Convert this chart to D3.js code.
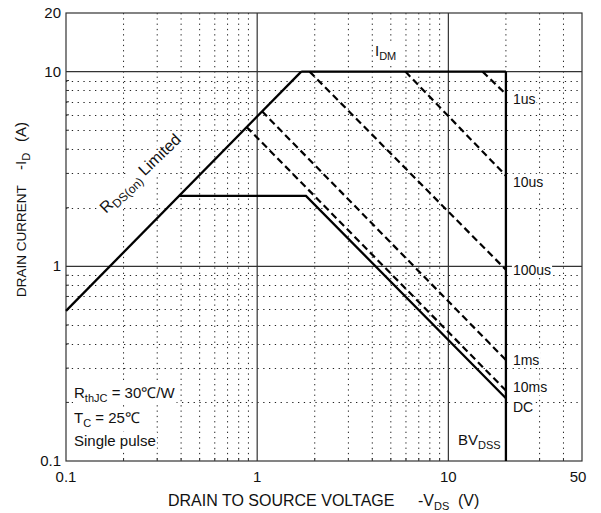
<!DOCTYPE html>
<html lang="en">
<head>
  <meta charset="UTF-8">
  <title>Safe Operating Area</title>
  <script src="https://d3js.org/d3.v7.min.js"></script>
  <style>
    body { margin: 0; background: #fff; }
    svg { display: block; font-family: "Liberation Sans", Arial, sans-serif; }
    .tick-label { font-size: 15px; fill: #111; }
    .lbl { font-size: 15px; fill: #111; }
    .side { font-size: 14px; fill: #111; }
  </style>
</head>
<body>
  <svg width="601" height="513"></svg>

  <script>
    // axis ticks
    const xTicks = [0.1, 1, 10, 50];
    const yTicks = [0.1, 1, 10, 20];
    const xMajor = [1, 10];
    const yMajor = [1, 10];
    const xMinor = [0.2, 0.3, 0.4, 0.5, 0.6, 0.7, 0.8, 0.9, 2, 3, 4, 5, 6, 7, 8, 9, 20, 30, 40];
    const yMinor = [0.2, 0.3, 0.4, 0.5, 0.6, 0.7, 0.8, 0.9, 2, 3, 4, 5, 6, 7, 8, 9];

    // boundary lines [V, I]
    const rdsLimit = [[0.1, 0.59], [1.7, 10]];
    const idmLine = [[1.7, 10], [20, 10]];
    const bvdssLine = [[20, 10], [20, 0.1]];
    const dcLine = [[0.39, 2.3], [1.8, 2.3], [20, 0.21]];

    // pulse lines (dashed)
    const pulseNames = ["1us", "10us", "100us", "1ms", "10ms"];
    const pulseStart = [[15.1, 10], [5.96, 10], [1.88, 10], [1.06, 6.25], [0.88, 5.2]];
    const pulseEnd = [[20, 7.66], [20, 2.92], [20, 0.96], [20, 0.33], [20, 0.23]];

    // curve labels at V = 20
    const curveLabels = ["1us", "10us", "100us", "1ms", "10ms", "DC"];
    const curveLabelAt = [6.83, 2.56, 0.906, 0.313, 0.225, 0.178];

    const svg = d3.select("svg");

    const x = d3.scaleLog().domain([0.1, 50]).range([66, 582]);
    const y = d3.scaleLog().domain([0.1, 20]).range([461, 13]);

    const grid = svg.append("g");

    // minor dotted grid
    grid.selectAll(".vminor")
      .data(xMinor)
      .join("line")
      .attr("x1", d => x(d)).attr("x2", d => x(d))
      .attr("y1", y(20)).attr("y2", y(0.1))
      .attr("stroke", "#222")
      .attr("stroke-width", 1)
      .attr("stroke-dasharray", "1.3,4");

    grid.selectAll(".hminor")
      .data(yMinor)
      .join("line")
      .attr("y1", d => Math.round(y(d)) + 0.5).attr("y2", d => Math.round(y(d)) + 0.5)
      .attr("x1", x(0.1)).attr("x2", x(50))
      .attr("stroke", "#222")
      .attr("stroke-width", 1)
      .attr("stroke-dasharray", "1.3,4.5");

    // major grid
    grid.selectAll(".vmajor")
      .data(xMajor)
      .join("line")
      .attr("x1", d => x(d)).attr("x2", d => x(d))
      .attr("y1", y(20)).attr("y2", y(0.1))
      .attr("stroke", "#333")
      .attr("stroke-width", 1.2);

    grid.selectAll(".hmajor")
      .data(yMajor)
      .join("line")
      .attr("y1", d => y(d)).attr("y2", d => y(d))
      .attr("x1", x(0.1)).attr("x2", x(50))
      .attr("stroke", "#333")
      .attr("stroke-width", 1.2);

    // small inward ticks
    grid.selectAll(".ytick")
      .data(yMinor)
      .join("line")
      .attr("x1", x(0.1)).attr("x2", x(0.1) + 3)
      .attr("y1", d => y(d)).attr("y2", d => y(d))
      .attr("stroke", "#333");

    grid.selectAll(".xtick")
      .data(xMinor)
      .join("line")
      .attr("x1", d => x(d)).attr("x2", d => x(d))
      .attr("y1", y(0.1)).attr("y2", y(0.1) - 3)
      .attr("stroke", "#333");

    // frame
    svg.append("rect")
      .attr("x", x(0.1)).attr("y", y(20))
      .attr("width", x(50) - x(0.1)).attr("height", y(0.1) - y(20))
      .attr("fill", "none")
      .attr("stroke", "#333")
      .attr("stroke-width", 1.2);

    // white-backed text helper
    function boxed(parent, build) {
      const g = parent.append("g");
      const t = build(g);
      const b = t.node().getBBox();
      g.insert("rect", "text")
        .attr("x", b.x - 1).attr("y", b.y)
        .attr("width", b.width + 2).attr("height", b.height)
        .attr("fill", "#fff");
      return g;
    }

    const line = d3.line().x(d => x(d[0])).y(d => y(d[1]));
    const curves = svg.append("g");

    // dashed pulse lines
    curves.selectAll(".pulse")
      .data(pulseNames)
      .join("path")
      .attr("d", (d, i) => line([pulseStart[i], pulseEnd[i]]))
      .attr("fill", "none")
      .attr("stroke", "#000")
      .attr("stroke-width", 2.2)
      .attr("stroke-dasharray", "7,4");

    // solid boundaries
    [rdsLimit, idmLine, bvdssLine, dcLine].forEach(pts => {
      curves.append("path")
        .attr("d", line(pts))
        .attr("fill", "none")
        .attr("stroke", "#000")
        .attr("stroke-width", 2.3)
        .attr("stroke-linejoin", "miter");
    });

    // curve labels
    curveLabels.forEach((name, i) => {
      boxed(svg, g => g.append("text")
        .attr("class", "side")
        .attr("x", x(20) + 7)
        .attr("y", y(curveLabelAt[i]))
        .text(name));
    });

    // I_DM label
    boxed(svg, g => {
      const t = g.append("text").attr("class", "side").attr("x", 375).attr("y", 56);
      t.append("tspan").attr("font-size", 15).text("I");
      t.append("tspan").attr("font-size", 11).attr("dy", 4).text("DM");
      return t;
    });

    // BV_DSS label
    boxed(svg, g => {
      const t = g.append("text").attr("class", "side").attr("x", 458).attr("y", 445);
      t.append("tspan").attr("font-size", 15).text("BV");
      t.append("tspan").attr("font-size", 11).attr("dy", 4).text("DSS");
      return t;
    });

    // R_DS(on) Limited label
    const rl = svg.append("g").attr("transform", "translate(106,214) rotate(-44)");
    boxed(rl, g => {
      const t = g.append("text").attr("x", 0).attr("y", 0).attr("font-size", 16).attr("fill", "#111");
      t.append("tspan").text("R");
      t.append("tspan").attr("font-size", 12).attr("dy", 4).text("DS(on)");
      t.append("tspan").attr("dy", -4).text(" Limited");
      return t;
    });

    // conditions
    boxed(svg, g => {
      const t = g.append("text").attr("class", "lbl").attr("x", 74).attr("y", 398);
      t.append("tspan").text("R");
      t.append("tspan").attr("font-size", 11).attr("dy", 4).text("thJC");
      t.append("tspan").attr("dy", -4).text(" = 30\u2103/W");
      return t;
    });
    boxed(svg, g => {
      const t = g.append("text").attr("class", "lbl").attr("x", 74).attr("y", 423);
      t.append("tspan").text("T");
      t.append("tspan").attr("font-size", 11).attr("dy", 4).text("C");
      t.append("tspan").attr("dy", -4).text(" = 25\u2103");
      return t;
    });
    boxed(svg, g => g.append("text").attr("class", "lbl").attr("x", 74).attr("y", 446).text("Single pulse"));

    // tick labels
    svg.selectAll(".xlab")
      .data(xTicks)
      .join("text")
      .attr("class", "tick-label")
      .attr("x", d => d === 50 ? x(d) - 4 : x(d))
      .attr("y", 482)
      .attr("text-anchor", "middle")
      .text(d => d);

    svg.selectAll(".ylab")
      .data(yTicks)
      .join("text")
      .attr("class", "tick-label")
      .attr("x", 61)
      .attr("y", d => y(d) + 5)
      .attr("text-anchor", "end")
      .text(d => d);

    // axis titles
    const xt = svg.append("text").attr("font-size", 16).attr("fill", "#111").attr("y", 506);
    xt.append("tspan").attr("x", 168).text("DRAIN TO SOURCE VOLTAGE");
    xt.append("tspan").attr("x", 418).text("-V");
    xt.append("tspan").attr("font-size", 11).attr("dy", 4).text("DS");
    xt.append("tspan").attr("x", 458).attr("dy", -4).text("(V)");

    const yt = svg.append("text").attr("font-size", 15).attr("fill", "#111").attr("transform", "translate(26,0) rotate(-90)");
    yt.append("tspan").attr("x", -297).attr("font-size", 13.5).text("DRAIN CURRENT");
    yt.append("tspan").attr("x", -170).text("-I");
    yt.append("tspan").attr("font-size", 11).attr("dy", 4).text("D");
    yt.append("tspan").attr("x", -142).attr("dy", -4).text("(A)");
  </script>
</body>
</html>
